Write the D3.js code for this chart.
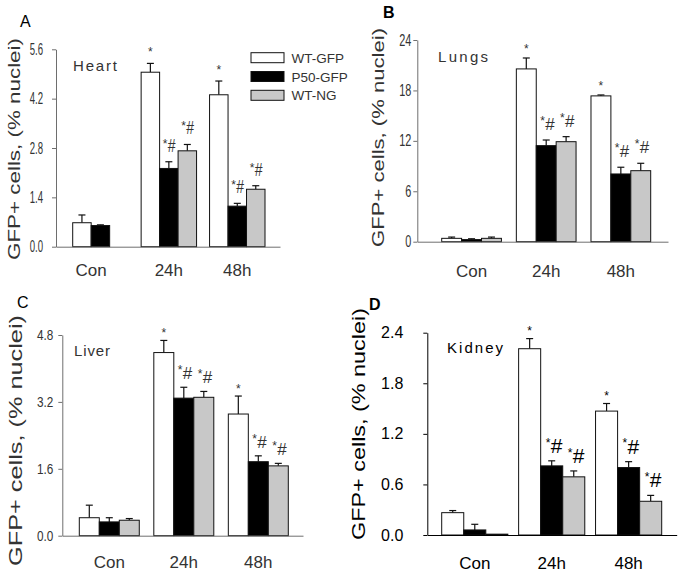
<!DOCTYPE html>
<html>
<head>
<meta charset="utf-8">
<script src="https://cdn.jsdelivr.net/npm/d3@7/dist/d3.min.js"></script>
<style>
  html, body { margin: 0; padding: 0; background: #fff; }
  svg { display: block; font-family: Arial, "Liberation Sans", Helvetica, sans-serif; }
</style>
</head>
<body>
<svg id="chart" width="681" height="574"></svg>
<script>
// ---------------- DATA ----------------
const categories = ["Con", "24h", "48h"];
const seriesNames = ["WT-GFP", "P50-GFP", "WT-NG"];
const sigMarks = ["*", "*#", "*#"];          // marks above the 24h and 48h groups
const yTitle = "GFP+ cells, (% nuclei)";

// Heart (A)
const heartWT = [0.68, 4.95, 4.31];
const heartWTErr = [0.22, 0.25, 0.39];
const heartP50 = [0.60, 2.22, 1.15];
const heartP50Err = [0.02, 0.19, 0.08];
const heartNG = [null, 2.72, 1.63];
const heartNGErr = [null, 0.18, 0.10];
const heartTicks = [0, 1.4, 2.8, 4.2, 5.6];

// Lungs (B)
const lungsWT = [0.40, 20.56, 17.35];
const lungsWTErr = [0.15, 1.30, 0.11];
const lungsP50 = [0.25, 11.43, 8.06];
const lungsP50Err = [0.10, 0.67, 0.80];
const lungsNG = [0.40, 11.90, 8.45];
const lungsNGErr = [0.15, 0.60, 0.88];
const lungsTicks = [0, 6, 12, 18, 24];

// Liver (C)
const liverWT = [0.43, 4.38, 2.91];
const liverWTErr = [0.30, 0.29, 0.43];
const liverP50 = [0.33, 3.29, 1.77];
const liverP50Err = [0.10, 0.26, 0.14];
const liverNG = [0.37, 3.31, 1.67];
const liverNGErr = [0.04, 0.14, 0.06];
const liverTicks = [0, 1.6, 3.2, 4.8];

// Kidney (D)
const kidneyWT = [0.265, 2.21, 1.47];
const kidneyWTErr = [0.025, 0.12, 0.09];
const kidneyP50 = [0.06, 0.82, 0.80];
const kidneyP50Err = [0.067, 0.06, 0.07];
const kidneyNG = [0.01, 0.69, 0.40];
const kidneyNGErr = [0, 0.07, 0.07];
const kidneyTicks = [0, 0.6, 1.2, 1.8, 2.4];

// ---------------- LAYOUT / STYLE ----------------
const fills = ["#ffffff", "#000000", "#c8c8c8"];

const panels = [
  { letter: "A", organ: "Heart", means: [heartWT, heartP50, heartNG], errs: [heartWTErr, heartP50Err, heartNGErr],
    ticks: heartTicks, fmt: ".1f",
    L: { axisX: 56, axisRight: 280, y0: 246.7, yTop: 49.3, barsL: 72.7, barsR: 265, pad: 0.19,
         tickFs: 16, tickSx: 0.6, tickOff: 13, axisColor: "#6e6e6e", textColor: "#333",
         titleX: 19.5, titleY0: 260, titleY1: 38, titleFs: 17,
         letterX: 20, letterY: 27, letterW: "normal",
         organX: 73, organY: 70.7, organLen: 44, organFs: 15,
         catY: 276, catFs: 17, starGap: 7, hashGap: 10, hashFs: 14, hashSy: 1.3, legend: true } },
  { letter: "B", organ: "Lungs", means: [lungsWT, lungsP50, lungsNG], errs: [lungsWTErr, lungsP50Err, lungsNGErr],
    ticks: lungsTicks, fmt: "d",
    L: { axisX: 417.3, axisRight: 668, y0: 241.7, yTop: 40, barsL: 441.7, barsR: 650.7, pad: 0.2,
         tickFs: 16, tickSx: 0.68, tickOff: 6, axisColor: "#6e6e6e", textColor: "#333",
         titleX: 384, titleY0: 247, titleY1: 28, titleFs: 17,
         letterX: 383, letterY: 18, letterW: "bold",
         organX: 438, organY: 62, organLen: 50, organFs: 15,
         catY: 277, catFs: 17, starGap: 5, hashGap: 10, hashFs: 17, hashSy: 1, legend: false } },
  { letter: "C", organ: "Liver", means: [liverWT, liverP50, liverNG], errs: [liverWTErr, liverP50Err, liverNGErr],
    ticks: liverTicks, fmt: ".1f",
    L: { axisX: 62.3, axisRight: 303, y0: 535.7, yTop: 335, barsL: 79.3, barsR: 288.3, pad: 0.195,
         tickFs: 15.5, tickSx: 0.76, tickOff: 9, axisColor: "#6e6e6e", textColor: "#333",
         titleX: 22, titleY0: 566, titleY1: 315, titleFs: 18,
         letterX: 17, letterY: 308, letterW: "normal",
         organX: 74, organY: 355.7, organLen: 36, organFs: 15,
         catY: 568, catFs: 17, starGap: 3, hashGap: 8, hashFs: 17, hashSy: 1, legend: false } },
  { letter: "D", organ: "Kidney", means: [kidneyWT, kidneyP50, kidneyNG], errs: [kidneyWTErr, kidneyP50Err, kidneyNGErr],
    ticks: kidneyTicks, fmt: ".1f",
    L: { axisX: 427.3, axisRight: 676.7, y0: 535, yTop: 332.7, barsL: 441.7, barsR: 661.7, pad: 0.14,
         tickFs: 16, tickSx: 1, tickOff: 24, axisColor: "#000", textColor: "#000",
         titleX: 365, titleY0: 540, titleY1: 308, titleFs: 19,
         letterX: 369, letterY: 310, letterW: "bold",
         organX: 447, organY: 353, organLen: 56, organFs: 15,
         catY: 569, catFs: 17, starGap: 4, hashGap: 8, hashFs: 21, hashSy: 1, legend: false } }
];

const svg = d3.select("#chart");

panels.forEach(p => {
  const L = p.L;
  const g = svg.append("g");
  const yMax = p.ticks[p.ticks.length - 1];
  const y = d3.scaleLinear().domain([0, yMax]).range([L.y0, L.yTop]);
  const x0 = d3.scaleBand().domain(categories).range([L.barsL, L.barsR]).paddingInner(L.pad).paddingOuter(0);
  const x1 = d3.scaleBand().domain(seriesNames).range([0, x0.bandwidth()]).padding(0);

  const rows = [];
  categories.forEach((c, ci) => {
    seriesNames.forEach((s, si) => {
      const v = p.means[si][ci];
      if (v === null || v === undefined) return;
      rows.push({ cat: c, ci, s, si, v, e: p.errs[si][ci] || 0 });
    });
  });

  // error bars
  const eb = g.append("g").attr("stroke", "#111").attr("stroke-width", 1.2);
  rows.filter(r => r.e > 0).forEach(r => {
    const cx = x0(r.cat) + x1(r.s) + x1.bandwidth() / 2;
    eb.append("line").attr("x1", cx).attr("x2", cx).attr("y1", y(r.v)).attr("y2", y(r.v + r.e));
    eb.append("line").attr("x1", cx - 3.5).attr("x2", cx + 3.5).attr("y1", y(r.v + r.e)).attr("y2", y(r.v + r.e));
  });

  // bars
  g.append("g").selectAll("rect").data(rows).join("rect")
    .attr("x", r => x0(r.cat) + x1(r.s))
    .attr("y", r => y(r.v))
    .attr("width", x1.bandwidth())
    .attr("height", r => Math.max(0.5, L.y0 - y(r.v)))
    .attr("fill", r => fills[r.si])
    .attr("stroke", "#111")
    .attr("stroke-width", 1);

  // significance marks
  rows.filter(r => r.ci > 0).forEach(r => {
    const cx = x0(r.cat) + x1(r.s) + x1.bandwidth() / 2;
    const top = y(r.v + r.e);
    const mark = sigMarks[r.si];
    if (mark === "*") {
      g.append("text").attr("x", cx).attr("y", top - L.starGap)
        .attr("text-anchor", "middle").attr("font-size", 12).attr("fill", L.textColor).text("*");
    } else {
      const bx = cx - 6;
      const by = top - L.hashGap;
      g.append("text").attr("x", bx).attr("y", by - L.hashFs * 0.3)
        .attr("font-size", 12).attr("fill", L.textColor).text("*");
      g.append("text").attr("transform", `translate(${bx + 5},${by}) scale(1,${L.hashSy})`)
        .attr("font-size", L.hashFs).attr("fill", L.textColor).text("#");
    }
  });

  // y axis
  const yAxis = d3.axisLeft(y).tickValues(p.ticks).tickSize(4).tickSizeOuter(0)
    .tickFormat(d3.format(p.fmt));
  const ya = g.append("g").attr("transform", `translate(${L.axisX},0)`).call(yAxis);
  ya.select(".domain").attr("stroke", L.axisColor);
  ya.selectAll(".tick line").attr("stroke", L.axisColor);
  ya.selectAll(".tick text")
    .attr("font-size", L.tickFs)
    .attr("font-family", "Arial, 'Liberation Sans', sans-serif")
    .attr("fill", L.textColor)
    .attr("x", -L.tickOff / L.tickSx)
    .attr("transform", `scale(${L.tickSx},1)`);

  // x axis line (no ticks)
  const xLine = d3.scaleLinear().range([L.axisX, L.axisRight]);
  const xa = g.append("g").attr("transform", `translate(0,${L.y0})`)
    .call(d3.axisBottom(xLine).tickValues([]).tickSizeOuter(0));
  xa.select(".domain").attr("stroke", L.axisColor);

  // category labels centered on drawn bars
  categories.forEach((c, ci) => {
    const rs = rows.filter(r => r.ci === ci);
    const left = d3.min(rs, r => x0(r.cat) + x1(r.s));
    const right = d3.max(rs, r => x0(r.cat) + x1(r.s) + x1.bandwidth());
    g.append("text").attr("x", (left + right) / 2).attr("y", L.catY)
      .attr("text-anchor", "middle").attr("font-size", L.catFs).attr("fill", L.textColor).text(c);
  });

  // y title
  const tcy = (L.titleY0 + L.titleY1) / 2;
  g.append("text")
    .attr("transform", `translate(${L.titleX},${tcy}) rotate(-90)`)
    .attr("text-anchor", "middle")
    .attr("font-size", L.titleFs)
    .attr("fill", L.textColor)
    .attr("textLength", L.titleY0 - L.titleY1)
    .attr("lengthAdjust", "spacingAndGlyphs")
    .text(yTitle);

  // panel letter
  g.append("text").attr("x", L.letterX).attr("y", L.letterY)
    .attr("font-size", 16).attr("font-weight", L.letterW).attr("fill", "#000").text(p.letter);

  // organ label
  g.append("text").attr("x", L.organX).attr("y", L.organY)
    .attr("font-size", L.organFs).attr("fill", L.textColor)
    .attr("textLength", L.organLen).attr("lengthAdjust", "spacing")
    .text(p.organ);

  // legend
  if (L.legend) {
    const lg = g.append("g");
    seriesNames.forEach((s, i) => {
      const ly = 52.7 + i * 18.8;
      lg.append("rect").attr("x", 251).attr("y", ly).attr("width", 33).attr("height", 10)
        .attr("fill", fills[i]).attr("stroke", "#111").attr("stroke-width", 1);
      lg.append("text").attr("x", 291.5).attr("y", ly + 10).attr("font-size", 13.5)
        .attr("fill", L.textColor).text(s);
    });
  }
});
</script>
</body>
</html>
